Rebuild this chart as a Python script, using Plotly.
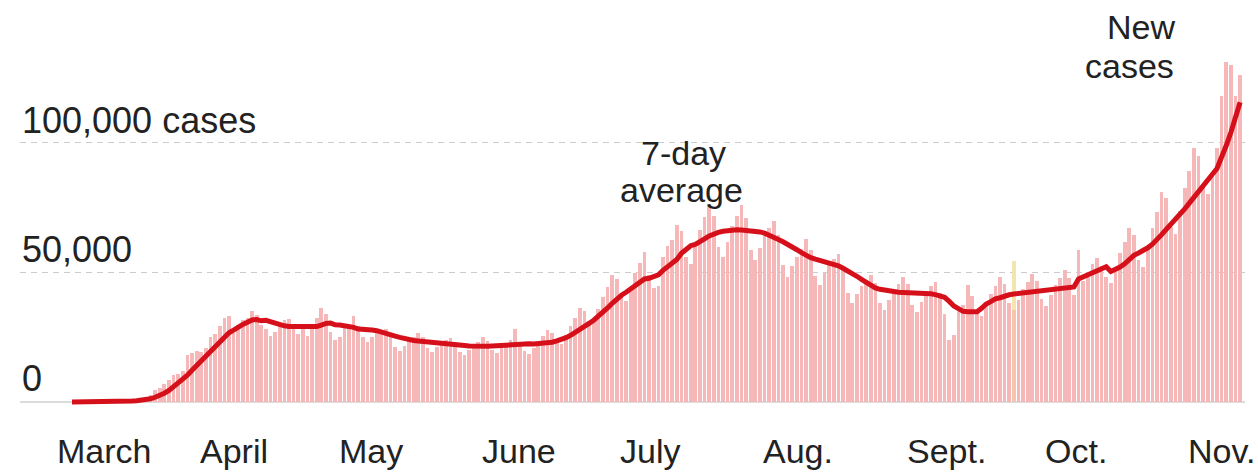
import pandas as pd
import plotly.graph_objects as go

# ---------------- data (daily new U.S. cases, March 1 - Nov. 9, 2020) ----------------
start_date = "2020-03-01"

cases_march = [14, 20, 24, 33, 76, 80, 100, 117, 191, 290, 400, 527, 640, 733, 836, 1200,
               1770, 2890, 4650, 5580, 6900, 8500, 10400, 10900, 12100, 18000, 18800, 19700,
               19300, 21000, 25200]
cases_april = [26400, 29300, 32300, 33300, 26600, 29700, 31800, 32500, 35100, 33700, 29800,
               28000, 25600, 27100, 29800, 31700, 32100, 29500, 26200, 28500, 25600, 29500,
               32300, 36200, 33900, 27000, 23900, 24900, 28500, 30200]
cases_may = [33000, 29500, 25000, 23000, 25100, 26700, 27300, 28200, 26100, 21400, 19700,
             21600, 23700, 25200, 26800, 25100, 20700, 19200, 21200, 22800, 23800, 24800,
             23000, 19200, 18000, 19900, 21900, 23300, 25000, 23500, 19900]
cases_june = [18800, 21000, 22800, 23900, 28000, 23300, 19600, 18500, 20700, 23300, 25300,
              27600, 26500, 23000, 22300, 25700, 29500, 32500, 36100, 35200, 31100, 30700,
              35700, 40600, 44400, 48900, 47300, 40500, 38900, 44200]
cases_july = [49800, 53600, 58000, 49000, 44000, 44900, 56000, 60000, 62600, 68300, 65800,
              56100, 53100, 59600, 66300, 71300, 76100, 71700, 59900, 55900, 61800, 67700,
              71600, 75900, 71000, 58800, 54600, 59500, 64300, 67000, 70000]
cases_august = [64600, 52700, 48300, 52300, 56100, 59100, 62700, 58500, 48600, 45200, 49800,
                53300, 55100, 57000, 52100, 42200, 38200, 41600, 44900, 46700, 48800, 45800,
                38200, 35600, 39300, 43000, 45600, 48400, 45400, 37600, 34900]
cases_september = [38600, 42300, 44800, 46200, 41900, 33800, 24000, 26000, 35400, 37500,
                   45000, 40800, 34800, 33300, 37700, 41800, 44800, 48300, 45500, 38000,
                   35400, 39300, 43400, 46100, 49500, 46700, 39800, 37100, 41100, 45100]
cases_october = [47700, 50800, 47700, 41200, 58800, 46700, 50000, 53300, 55700, 52600, 48300,
                 45800, 51400, 57300, 61800, 67000, 64300, 54600, 52100, 59200, 67100, 73400,
                 81100, 78600, 67500, 64700, 73500, 82400, 89100, 97800, 95000]
cases_november = [82400, 80100, 88000, 98000, 118000, 131000, 130000, 118000, 126000]

# one-day backlog reported on top of the regular count
backlog_dates = ["2020-09-21"]
backlog_cases = [19000]

month_starts = ["2020-03-01", "2020-04-01", "2020-05-01", "2020-06-01", "2020-07-01",
                "2020-08-01", "2020-09-01", "2020-10-01", "2020-11-01"]
month_labels = ["March", "April", "May", "June", "July", "Aug.", "Sept.", "Oct.", "Nov."]

y_tick_values = [0, 50000, 100000]
y_tick_labels = ["0", "50,000", "100,000 cases"]

# ---------------- build ----------------
new_cases = (cases_march + cases_april + cases_may + cases_june + cases_july +
             cases_august + cases_september + cases_october + cases_november)
dates = pd.date_range(start_date, periods=len(new_cases), freq="D")
series = pd.Series(new_cases, index=dates)
avg7 = series.rolling(7, min_periods=1).mean()

BAR = "#f5b7b7"
SPECIAL = "#f7c6aa"
bar_colors = [SPECIAL if d.strftime("%Y-%m-%d") in backlog_dates else BAR for d in dates]

FONT = "Liberation Sans, Arial, sans-serif"
INK = "#222222"

W, H = 1258, 472
ML, MR, MT, MB = 20, 13, 39, 66
PX_PER_DAY = 4.617
FIRST_BAR_PX = 72
t0 = pd.Timestamp(start_date)
x_left = t0 + pd.Timedelta(days=(ML - FIRST_BAR_PX) / PX_PER_DAY)
x_right = t0 + pd.Timedelta(days=(W - MR - FIRST_BAR_PX) / PX_PER_DAY)

fig = go.Figure()
fig.add_trace(go.Bar(x=dates, y=new_cases, marker=dict(color=bar_colors, line=dict(width=0)),
                     hoverinfo="skip"))
fig.add_trace(go.Bar(x=pd.to_datetime(backlog_dates), y=backlog_cases,
                     marker=dict(color="#f4e4ae", line=dict(width=0)), hoverinfo="skip"))
fig.add_trace(go.Scatter(x=dates, y=avg7, mode="lines",
                         line=dict(color="#d5101b", width=5), hoverinfo="skip"))

plot_h = H - MT - MB


def paper_y(px):
    return (H - MB - px) / plot_h


annotations = []
label_mid_px = [378.5, 249.0, 121.0]
for lbl, ypx in zip(y_tick_labels, label_mid_px):
    annotations.append(dict(xref="paper", yref="paper", x=0, y=paper_y(ypx), text=lbl,
                            xanchor="left", yanchor="middle", showarrow=False,
                            font=dict(family=FONT, size=36, color=INK)))
for d, lbl in zip(month_starts, month_labels):
    annotations.append(dict(xref="x", yref="paper", x=d, y=paper_y(451), text=lbl,
                            xanchor="left", yanchor="middle", xshift=-17, showarrow=False,
                            font=dict(family=FONT, size=34, color=INK)))
annotations += [
    dict(xref="paper", yref="paper", x=(684 - ML) / (W - ML - MR), y=paper_y(153),
         text="7-day", xanchor="center", yanchor="middle", showarrow=False,
         font=dict(family=FONT, size=34, color=INK)),
    dict(xref="paper", yref="paper", x=(681 - ML) / (W - ML - MR), y=paper_y(190),
         text="average", xanchor="center", yanchor="middle", showarrow=False,
         font=dict(family=FONT, size=34, color=INK)),
    dict(xref="paper", yref="paper", x=(1177 - ML) / (W - ML - MR), y=paper_y(27),
         text="New", xanchor="right", yanchor="middle", showarrow=False,
         font=dict(family=FONT, size=34, color=INK)),
    dict(xref="paper", yref="paper", x=(1176 - ML) / (W - ML - MR), y=paper_y(66),
         text="cases", xanchor="right", yanchor="middle", showarrow=False,
         font=dict(family=FONT, size=34, color=INK)),
]

fig.update_layout(
    width=W, height=H,
    margin=dict(l=ML, r=MR, t=MT, b=MB, pad=0),
    paper_bgcolor="white", plot_bgcolor="white",
    barmode="stack", bargap=0.2,
    showlegend=False, hovermode=False,
    annotations=annotations,
    xaxis=dict(type="date", range=[x_left, x_right], showgrid=False, zeroline=False,
               showline=False, showticklabels=False, ticks="", fixedrange=True),
    yaxis=dict(range=[-1543, 140000], tickvals=y_tick_values[1:], showticklabels=False,
               showgrid=True, gridcolor="#cccccc", gridwidth=1, griddash="6px,5px",
               zeroline=True, zerolinecolor="#dcdcdc", zerolinewidth=2,
               showline=False, ticks="", fixedrange=True),
)

fig.write_html(
    "out.html",
    config={"displayModeBar": False, "staticPlot": True},
    post_script="document.body.style.margin='0';document.body.style.overflow='hidden';",
)
